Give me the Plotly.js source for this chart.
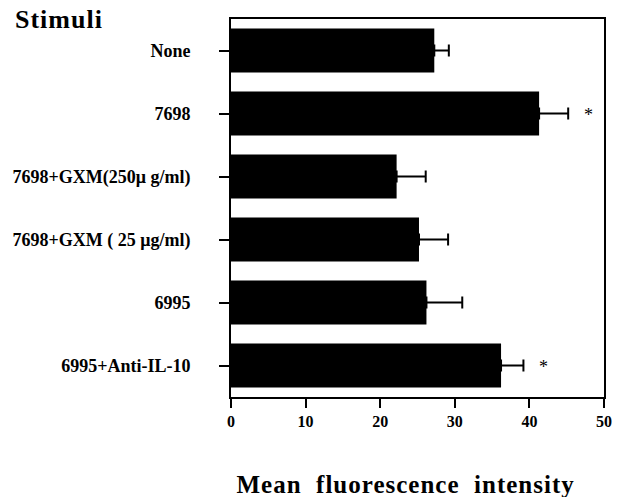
<!DOCTYPE html>
<html>
<head>
<meta charset="utf-8">
<script src="https://cdn.plot.ly/plotly-3.0.1.min.js"></script>
<style>
  body { margin: 0; padding: 0; background: #fff; }
  #chart { width: 617px; height: 497px; }
  .gtitle { letter-spacing: 1px; }
  .annotation:last-of-type .annotation-text { letter-spacing: 1px; }
</style>
</head>
<body>
<div id="chart"></div>
<script>
const categories = ['None', '7698', '7698+GXM(250\u03bc g/ml)', '7698+GXM ( 25 \u03bcg/ml)', '6995', '6995+Anti-IL-10'];
const meanValues = [27.25, 41.3, 22.2, 25.2, 26.2, 36.2];
const errorValues = [1.95, 3.9, 3.9, 3.9, 4.8, 3.0];
const significance = ['', '*', '', '', '', '*'];
const xTicks = [0, 10, 20, 30, 40, 50];

const serif = '"Liberation Serif", "Times New Roman", "DejaVu Serif", serif';

const trace = {
  type: 'bar',
  orientation: 'h',
  y: categories,
  x: meanValues,
  width: 0.7,
  marker: { color: '#000', line: { width: 0 } },
  error_x: {
    type: 'data',
    symmetric: false,
    array: errorValues,
    arrayminus: errorValues.map(() => 0),
    color: '#000',
    thickness: 2,
    width: 6
  },
  hoverinfo: 'none'
};

const annotations = [];
categories.forEach((c, i) => {
  if (significance[i]) {
    annotations.push({
      x: meanValues[i] + errorValues[i],
      y: i,
      xref: 'x', yref: 'y',
      text: significance[i],
      showarrow: false,
      xanchor: 'center',
      yanchor: 'middle',
      xshift: 20,
      yshift: -1,
      font: { family: serif, size: 18, color: '#000' }
    });
  }
});
annotations.push({
  x: 0.469, y: -0.232,
  xref: 'paper', yref: 'paper',
  text: '<b>Mean\u00a0 fluorescence\u00a0 intensity</b>',
  showarrow: false,
  xanchor: 'center', yanchor: 'middle',
  font: { family: serif, size: 25, color: '#000' }
});

const layout = {
  width: 617,
  height: 497,
  margin: { l: 231, r: 13, t: 19, b: 100, pad: 0 },
  paper_bgcolor: '#fff',
  plot_bgcolor: '#fff',
  showlegend: false,
  title: {
    text: '<b>Stimuli</b>',
    x: 15 / 617,
    xanchor: 'left',
    xref: 'container',
    y: 1 - 19 / 497,
    yref: 'container',
    yanchor: 'middle',
    font: { family: serif, size: 26, color: '#000' }
  },
  xaxis: {
    range: [0, 50],
    tickvals: xTicks,
    ticktext: xTicks.map(v => '<b>' + v + '</b>'),
    ticks: 'outside',
    ticklen: 9,
    tickwidth: 2,
    tickcolor: '#000',
    showline: true,
    linewidth: 2,
    linecolor: '#000',
    mirror: true,
    showgrid: false,
    zeroline: false,
    tickfont: { family: serif, size: 16, color: '#000' },
    fixedrange: true
  },
  yaxis: {
    type: 'category',
    categoryorder: 'array',
    categoryarray: categories,
    range: [5.5, -0.5],
    tickvals: categories,
    ticktext: categories.map(c => '<b>' + c + '</b>'),
    ticks: 'outside',
    ticklen: 10,
    tickwidth: 2,
    tickcolor: '#000',
    ticklabelstandoff: 25,
    showline: true,
    linewidth: 2,
    linecolor: '#000',
    mirror: true,
    showgrid: false,
    zeroline: false,
    tickfont: { family: serif, size: 18, color: '#000' },
    fixedrange: true
  },
  annotations: annotations
};

Plotly.newPlot('chart', [trace], layout, { displayModeBar: false, staticPlot: true });
</script>
</body>
</html>
